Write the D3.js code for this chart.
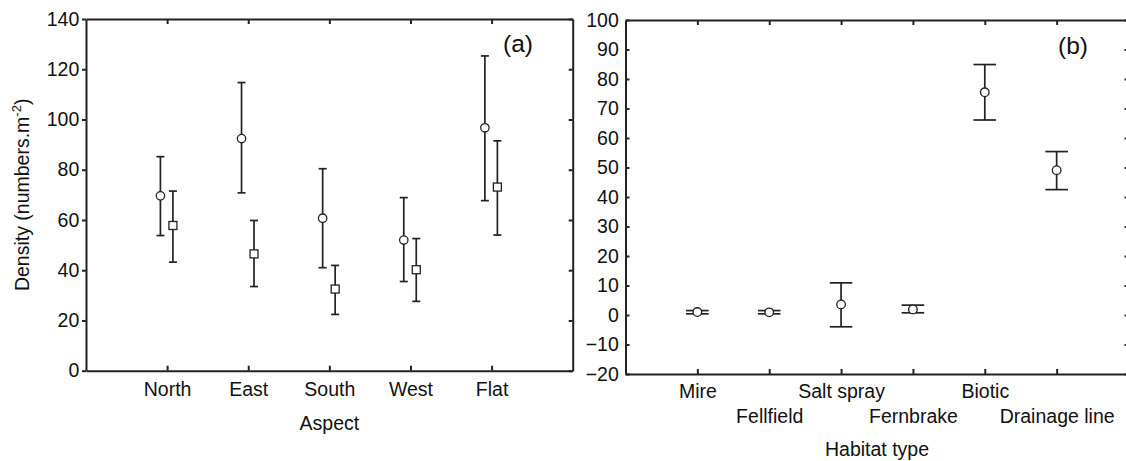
<!doctype html>
<html>

<head>
  <meta charset="UTF-8" />
  <title>Density by aspect and habitat</title>
  <style>
    html,
    body {
      margin: 0;
      background: #fff;
    }

    svg {
      font-family: "Liberation Sans", Arial, sans-serif;
      font-size: 19.5px;
      fill: #111;
    }

    .axis path,
    .axis line {
      stroke: #222;
      stroke-width: 2px;
    }

    .axis text {
      fill: #111;
      font-size: 19.5px;
      font-family: "Liberation Sans", Arial, sans-serif;
    }

    .bar line {
      stroke: #222;
      stroke-width: 1.7px;
    }

    .marker {
      fill: #fff;
      stroke: #222;
      stroke-width: 1.3px;
    }
  </style>
</head>

<body>
  <script src="https://cdn.jsdelivr.net/npm/d3@7"></script>
  <script>
    // data - panel (a)
    const aspects = ['North', 'East', 'South', 'West', 'Flat'];
    const circleMean = [69.6, 92.4, 60.7, 52.0, 96.7];
    const circleHi = [85.2, 114.7, 80.4, 68.9, 125.3];
    const circleLo = [53.8, 70.8, 41.0, 35.5, 67.7];
    const squareMean = [57.8, 46.5, 32.5, 40.2, 73.1];
    const squareHi = [71.5, 59.8, 41.9, 52.6, 91.5];
    const squareLo = [43.2, 33.5, 22.4, 27.6, 54.0];
    const ticksA = [0, 20, 40, 60, 80, 100, 120, 140];

    // data - panel (b)
    const habitats = ['Mire', 'Fellfield', 'Salt spray', 'Fernbrake', 'Biotic', 'Drainage line'];
    const habMean = [1.0, 0.9, 3.6, 1.9, 75.5, 49.1];
    const habHi = [1.5, 1.5, 10.9, 3.35, 84.9, 55.4];
    const habLo = [0.4, 0.4, -4.0, 0.75, 66.1, 42.5];
    const ticksB = [-20, -10, 0, 10, 20, 30, 40, 50, 60, 70, 80, 90, 100];

    const svg = d3.select('body').append('svg')
      .attr('width', 1126)
      .attr('height', 461);

    // ---------- panel (a) ----------
    const ax = d3.scaleLinear().domain([0, aspects.length + 1]).range([86, 572.7]);
    const ay = d3.scaleLinear().domain([0, 140]).range([370.7, 19]);
    const aPos = aspects.map((_, i) => i + 1);

    const gA = svg.append('g');

    gA.append('g').attr('class', 'axis')
      .attr('transform', `translate(${ax.range()[0]},0)`)
      .call(d3.axisLeft(ay).tickValues(ticksA).tickSize(4).tickSizeOuter(0).tickPadding(2.7));

    gA.append('g').attr('class', 'axis')
      .attr('transform', `translate(${ax.range()[1]},0)`)
      .call(d3.axisLeft(ay).tickValues(ticksA).tickSize(4).tickSizeOuter(0).tickFormat(''));

    gA.append('g').attr('class', 'axis')
      .attr('transform', `translate(0,${ay.range()[1]})`)
      .call(d3.axisTop(ax).tickValues(aPos).tickSize(-5).tickSizeOuter(0).tickFormat(''));

    gA.append('g').attr('class', 'axis')
      .attr('transform', `translate(0,${ay.range()[0]})`)
      .call(d3.axisBottom(ax).tickValues(aPos).tickSize(-5).tickSizeOuter(0)
        .tickPadding(11.5).tickFormat(d => aspects[d - 1]));

    function errorBars(g, xs, ys, mean, hi, lo, dx, cap) {
      const bars = g.selectAll(null)
        .data(mean.map((m, i) => ({ i, m, hi: hi[i], lo: lo[i] })))
        .join('g').attr('class', 'bar')
        .attr('transform', d => `translate(${xs(d.i + 1) + dx},0)`);
      bars.append('line').attr('y1', d => ys(d.hi)).attr('y2', d => ys(d.lo));
      bars.append('line').attr('x1', -cap).attr('x2', cap)
        .attr('y1', d => ys(d.hi)).attr('y2', d => ys(d.hi));
      bars.append('line').attr('x1', -cap).attr('x2', cap)
        .attr('y1', d => ys(d.lo)).attr('y2', d => ys(d.lo));
      return bars;
    }

    errorBars(gA, ax, ay, circleMean, circleHi, circleLo, -6.7, 4)
      .append('circle').attr('class', 'marker')
      .attr('cy', d => ay(d.m)).attr('r', 4.2);

    errorBars(gA, ax, ay, squareMean, squareHi, squareLo, 5.8, 4)
      .append('rect').attr('class', 'marker')
      .attr('x', -4).attr('y', d => ay(d.m) - 4)
      .attr('width', 8).attr('height', 8);

    gA.append('text')
      .attr('x', 503).attr('y', 52)
      .style('font-size', '24.5px')
      .text('(a)');

    gA.append('text')
      .attr('x', (ax.range()[0] + ax.range()[1]) / 2).attr('y', 429.5)
      .attr('text-anchor', 'middle')
      .text('Aspect');

    const ylab = gA.append('text')
      .attr('transform', `translate(29,${(ay.range()[0] + ay.range()[1]) / 2}) rotate(-90)`)
      .attr('text-anchor', 'middle');
    ylab.append('tspan').text('Density (numbers.m');
    ylab.append('tspan').attr('dy', -8).style('font-size', '13px').text('-2');
    ylab.append('tspan').attr('dy', 8).text(')');

    // ---------- panel (b) ----------
    const bx = d3.scaleLinear().domain([0, habitats.length + 1]).range([625.5, 1128.5]);
    const by = d3.scaleLinear().domain([-20, 100]).range([374, 20]);
    const bPos = habitats.map((_, i) => i + 1);

    const gB = svg.append('g');

    gB.append('g').attr('class', 'axis')
      .attr('transform', `translate(${bx.range()[0]},0)`)
      .call(d3.axisLeft(by).tickValues(ticksB).tickSize(-4).tickSizeOuter(0).tickPadding(6.7));

    gB.append('g').attr('class', 'axis')
      .attr('transform', `translate(${bx.range()[1]},0)`)
      .call(d3.axisLeft(by).tickValues(ticksB).tickSize(4).tickSizeOuter(0).tickFormat(''));

    gB.append('g').attr('class', 'axis')
      .attr('transform', `translate(0,${by.range()[1]})`)
      .call(d3.axisTop(bx).tickValues(bPos).tickSize(-5).tickSizeOuter(0).tickFormat(''));

    const bottomB = gB.append('g').attr('class', 'axis')
      .attr('transform', `translate(0,${by.range()[0]})`)
      .call(d3.axisBottom(bx).tickValues(bPos).tickSize(-5).tickSizeOuter(0)
        .tickPadding(10.5).tickFormat(d => habitats[d - 1]));

    // every second habitat label sits on a lower row
    bottomB.selectAll('.tick text')
      .attr('y', (d, i) => i % 2 ? 35.5 : 10.5);

    errorBars(gB, bx, by, habMean, habHi, habLo, 0, 11.3)
      .append('circle').attr('class', 'marker')
      .attr('cy', d => by(d.m)).attr('r', 4.3);

    gB.append('text')
      .attr('x', 1058).attr('y', 54)
      .style('font-size', '24.5px')
      .text('(b)');

    gB.append('text')
      .attr('x', (bx.range()[0] + bx.range()[1]) / 2).attr('y', 456)
      .attr('text-anchor', 'middle')
      .text('Habitat type');
  </script>
</body>

</html>
